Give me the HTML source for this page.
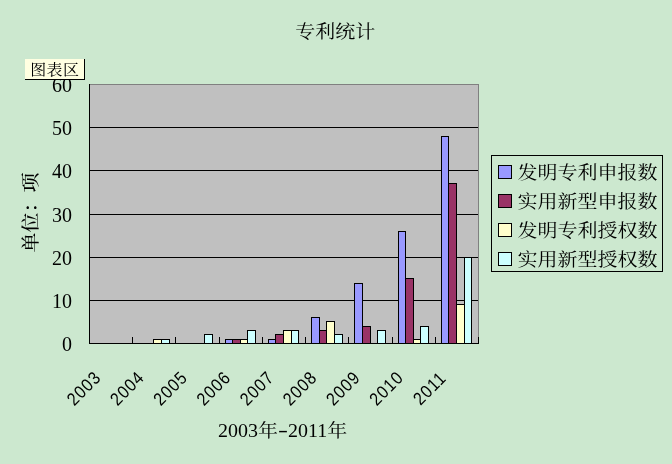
<!DOCTYPE html>
<html lang="zh-CN"><head><meta charset="utf-8"><title>专利统计</title>
<style>html,body{margin:0;padding:0;background:#CCE8CF;overflow:hidden}svg{display:block}text{font-family:"Liberation Serif","Noto Serif CJK SC",serif;fill:#000}.s{font-family:"Liberation Sans",sans-serif}.m{font-family:"Liberation Mono",monospace}</style></head><body>
<svg width="672" height="464" viewBox="0 0 672 464">
<rect x="0" y="0" width="672" height="464" fill="#CCE8CF"/>
<g shape-rendering="crispEdges">
<rect x="89.5" y="84.5" width="389.0" height="259.0" fill="#C0C0C0" stroke="#808080" stroke-width="1"/>
<line x1="89.5" y1="300.5" x2="478.0" y2="300.5" stroke="#000" stroke-width="1"/>
<line x1="89.5" y1="257.5" x2="478.0" y2="257.5" stroke="#000" stroke-width="1"/>
<line x1="89.5" y1="214.5" x2="478.0" y2="214.5" stroke="#000" stroke-width="1"/>
<line x1="89.5" y1="170.5" x2="478.0" y2="170.5" stroke="#000" stroke-width="1"/>
<line x1="89.5" y1="127.5" x2="478.0" y2="127.5" stroke="#000" stroke-width="1"/>
<rect x="153.5" y="339.5" width="8.0" height="4.0" fill="#FFFFCC" stroke="#000" stroke-width="1"/>
<rect x="161.5" y="339.5" width="8.0" height="4.0" fill="#CCFFFF" stroke="#000" stroke-width="1"/>
<rect x="204.5" y="334.5" width="8.0" height="9.0" fill="#CCFFFF" stroke="#000" stroke-width="1"/>
<rect x="225.5" y="339.5" width="7.0" height="4.0" fill="#9999FF" stroke="#000" stroke-width="1"/>
<rect x="232.5" y="339.5" width="8.0" height="4.0" fill="#993366" stroke="#000" stroke-width="1"/>
<rect x="240.5" y="339.5" width="7.0" height="4.0" fill="#FFFFCC" stroke="#000" stroke-width="1"/>
<rect x="247.5" y="330.5" width="8.0" height="13.0" fill="#CCFFFF" stroke="#000" stroke-width="1"/>
<rect x="268.5" y="339.5" width="7.0" height="4.0" fill="#9999FF" stroke="#000" stroke-width="1"/>
<rect x="275.5" y="334.5" width="8.0" height="9.0" fill="#993366" stroke="#000" stroke-width="1"/>
<rect x="283.5" y="330.5" width="8.0" height="13.0" fill="#FFFFCC" stroke="#000" stroke-width="1"/>
<rect x="291.5" y="330.5" width="7.0" height="13.0" fill="#CCFFFF" stroke="#000" stroke-width="1"/>
<rect x="311.5" y="317.5" width="8.0" height="26.0" fill="#9999FF" stroke="#000" stroke-width="1"/>
<rect x="319.5" y="330.5" width="7.0" height="13.0" fill="#993366" stroke="#000" stroke-width="1"/>
<rect x="326.5" y="321.5" width="8.0" height="22.0" fill="#FFFFCC" stroke="#000" stroke-width="1"/>
<rect x="334.5" y="334.5" width="8.0" height="9.0" fill="#CCFFFF" stroke="#000" stroke-width="1"/>
<rect x="354.5" y="283.5" width="8.0" height="60.0" fill="#9999FF" stroke="#000" stroke-width="1"/>
<rect x="362.5" y="326.5" width="8.0" height="17.0" fill="#993366" stroke="#000" stroke-width="1"/>
<rect x="377.5" y="330.5" width="8.0" height="13.0" fill="#CCFFFF" stroke="#000" stroke-width="1"/>
<rect x="398.5" y="231.5" width="7.0" height="112.0" fill="#9999FF" stroke="#000" stroke-width="1"/>
<rect x="405.5" y="278.5" width="8.0" height="65.0" fill="#993366" stroke="#000" stroke-width="1"/>
<rect x="413.5" y="339.5" width="7.0" height="4.0" fill="#FFFFCC" stroke="#000" stroke-width="1"/>
<rect x="420.5" y="326.5" width="8.0" height="17.0" fill="#CCFFFF" stroke="#000" stroke-width="1"/>
<rect x="441.5" y="136.5" width="7.0" height="207.0" fill="#9999FF" stroke="#000" stroke-width="1"/>
<rect x="448.5" y="183.5" width="8.0" height="160.0" fill="#993366" stroke="#000" stroke-width="1"/>
<rect x="456.5" y="304.5" width="8.0" height="39.0" fill="#FFFFCC" stroke="#000" stroke-width="1"/>
<rect x="464.5" y="257.5" width="7.0" height="86.0" fill="#CCFFFF" stroke="#000" stroke-width="1"/>
<line x1="89.5" y1="84.0" x2="89.5" y2="344.0" stroke="#000" stroke-width="1"/>
<line x1="89.0" y1="343.5" x2="479.0" y2="343.5" stroke="#000" stroke-width="1"/>
<line x1="132.5" y1="337.0" x2="132.5" y2="343.5" stroke="#000" stroke-width="1"/>
<line x1="175.5" y1="337.0" x2="175.5" y2="343.5" stroke="#000" stroke-width="1"/>
<line x1="219.5" y1="337.0" x2="219.5" y2="343.5" stroke="#000" stroke-width="1"/>
<line x1="262.5" y1="337.0" x2="262.5" y2="343.5" stroke="#000" stroke-width="1"/>
<line x1="305.5" y1="337.0" x2="305.5" y2="343.5" stroke="#000" stroke-width="1"/>
<line x1="348.5" y1="337.0" x2="348.5" y2="343.5" stroke="#000" stroke-width="1"/>
<line x1="392.5" y1="337.0" x2="392.5" y2="343.5" stroke="#000" stroke-width="1"/>
<line x1="435.5" y1="337.0" x2="435.5" y2="343.5" stroke="#000" stroke-width="1"/>
<line x1="478.5" y1="337.0" x2="478.5" y2="343.5" stroke="#000" stroke-width="1"/>
</g>
<text x="72" y="351.1" font-size="20" text-anchor="end">0</text>
<text x="72" y="307.9" font-size="20" text-anchor="end">10</text>
<text x="72" y="264.8" font-size="20" text-anchor="end">20</text>
<text x="72" y="221.6" font-size="20" text-anchor="end">30</text>
<text x="72" y="178.4" font-size="20" text-anchor="end">40</text>
<text x="72" y="135.3" font-size="20" text-anchor="end">50</text>
<text x="72" y="92.1" font-size="20" text-anchor="end">60</text>
<text class="s" y="6.4" font-size="18" letter-spacing="1.25" text-anchor="middle" transform="translate(83.7 388.0) rotate(-45) scale(0.88 1)">2003</text>
<text class="s" y="6.4" font-size="18" letter-spacing="1.25" text-anchor="middle" transform="translate(126.9 388.0) rotate(-45) scale(0.88 1)">2004</text>
<text class="s" y="6.4" font-size="18" letter-spacing="1.25" text-anchor="middle" transform="translate(170.1 388.0) rotate(-45) scale(0.88 1)">2005</text>
<text class="s" y="6.4" font-size="18" letter-spacing="1.25" text-anchor="middle" transform="translate(213.4 388.0) rotate(-45) scale(0.88 1)">2006</text>
<text class="s" y="6.4" font-size="18" letter-spacing="1.25" text-anchor="middle" transform="translate(256.6 388.0) rotate(-45) scale(0.88 1)">2007</text>
<text class="s" y="6.4" font-size="18" letter-spacing="1.25" text-anchor="middle" transform="translate(299.8 388.0) rotate(-45) scale(0.88 1)">2008</text>
<text class="s" y="6.4" font-size="18" letter-spacing="1.25" text-anchor="middle" transform="translate(343.0 388.0) rotate(-45) scale(0.88 1)">2009</text>
<text class="s" y="6.4" font-size="18" letter-spacing="1.25" text-anchor="middle" transform="translate(386.3 388.0) rotate(-45) scale(0.88 1)">2010</text>
<text class="s" y="6.4" font-size="18" letter-spacing="1.25" text-anchor="middle" transform="translate(429.5 388.0) rotate(-45) scale(0.88 1)">2011</text>
<text transform="translate(335.20 30.80) scale(1 0.93)" y="7.40" font-size="20" text-anchor="middle">专利统计</text>
<text transform="translate(218.00 430.60) scale(1 0.93)" y="7.40" font-size="20" text-anchor="start">2003年<tspan textLength="10" lengthAdjust="spacingAndGlyphs" dy="-1.5">-</tspan><tspan dy="1.5">2011年</tspan></text>
<text transform="translate(29.80 212.50) rotate(-90) scale(1 0.93)" y="7.40" font-size="20" text-anchor="middle" font-weight="500">单位：项</text>
<rect x="491.5" y="155.5" width="171" height="116" fill="none" stroke="#000" stroke-width="1" shape-rendering="crispEdges"/>
<rect x="498.5" y="165.5" width="13" height="13" fill="#9999FF" stroke="#000" stroke-width="1" shape-rendering="crispEdges"/>
<text transform="translate(517.50 172.40) scale(1 0.93)" y="7.40" font-size="20" text-anchor="start">发明专利申报数</text>
<rect x="498.5" y="194.5" width="13" height="13" fill="#993366" stroke="#000" stroke-width="1" shape-rendering="crispEdges"/>
<text transform="translate(517.50 201.35) scale(1 0.93)" y="7.40" font-size="20" text-anchor="start">实用新型申报数</text>
<rect x="498.5" y="223.5" width="13" height="13" fill="#FFFFCC" stroke="#000" stroke-width="1" shape-rendering="crispEdges"/>
<text transform="translate(517.50 230.30) scale(1 0.93)" y="7.40" font-size="20" text-anchor="start">发明专利授权数</text>
<rect x="498.5" y="252.5" width="13" height="13" fill="#CCFFFF" stroke="#000" stroke-width="1" shape-rendering="crispEdges"/>
<text transform="translate(517.50 259.25) scale(1 0.93)" y="7.40" font-size="20" text-anchor="start">实用新型授权数</text>
<g shape-rendering="crispEdges"><rect x="25" y="59" width="60" height="21" fill="#FFFFE1"/><line x1="25" y1="79.5" x2="85" y2="79.5" stroke="#000"/><line x1="84.5" y1="59" x2="84.5" y2="80" stroke="#000"/></g>
<text transform="translate(30.20 69.00) scale(1 0.93)" y="5.92" font-size="16" text-anchor="start" letter-spacing="0.4">图表区</text>
</svg></body></html>
